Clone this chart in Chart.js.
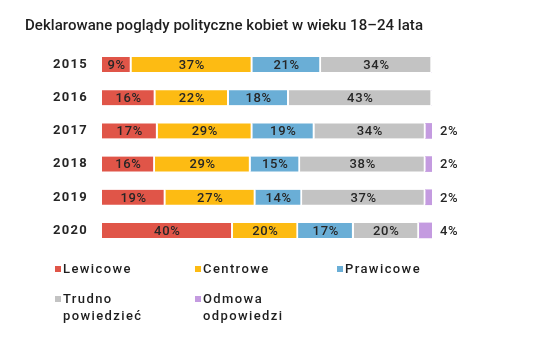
<!DOCTYPE html>
<html><head><meta charset="utf-8">
<script src="https://cdn.jsdelivr.net/npm/chart.js@4/dist/chart.umd.min.js"></script>
<style>
html,body{margin:0;padding:0;background:#fff;width:552px;height:341px;overflow:hidden;font-family:Roboto,"Noto Sans",sans-serif;}
#wrap{position:relative;width:552px;height:341px;}
#title{position:absolute;left:25px;top:16px;font-size:15px;font-weight:500;color:#1e1e1e;white-space:nowrap;letter-spacing:0.05px;}
#c{position:absolute;left:0;top:0;}
.leg{position:absolute;font-size:13px;font-weight:500;color:#1e1e1e;letter-spacing:1.4px;line-height:17px;}
.leg i{position:absolute;left:-8px;top:6px;width:6px;height:6px;}
</style></head>
<body><div id="wrap">
<canvas id="c" width="552" height="341"></canvas>
<div id="title">Deklarowane poglądy polityczne kobiet w wieku 18–24 lata</div>
<div id="legend"></div>
</div>
<script>
const categories = ["2015","2016","2017","2018","2019","2020"];
const seriesNames = ["Lewicowe","Centrowe","Prawicowe","Trudno powiedzieć","Odmowa odpowiedzi"];
const lewicowe = [9,16,17,16,19,40];
const centrowe = [37,22,29,29,27,20];
const prawicowe = [21,18,19,15,14,17];
const trudno = [34,43,34,38,37,20];
const odmowa = [0,0,2,2,2,4];
const colors = ["#e05548","#fdbb13","#6aaed6","#c3c3c3","#c49be0"];

const raw = [lewicowe,centrowe,prawicowe,trudno,odmowa];
const totals = categories.map((_,i)=>raw.reduce((s,a)=>s+a[i],0));

const datasets = raw.map((arr,k)=>({
  label: seriesNames[k],
  data: arr.map((v,i)=>v*100/totals[i]),
  rawValues: arr,
  backgroundColor: colors[k],
  borderColor: "#ffffff",
  borderWidth: {left:0,top:0,bottom:0,right:k<4?2:0},
  borderSkipped: false,
  barThickness: 15
}));

const spacingPlugin = {
  id:"spacing",
  beforeDraw(chart){ try{ chart.ctx.letterSpacing = "1.3px"; }catch(e){} }
};

const labelPlugin = {
  id:"labels",
  afterDatasetsDraw(chart){
    const ctx = chart.ctx;
    ctx.save();
    try{ ctx.letterSpacing = "0.7px"; }catch(e){}
    ctx.font = "500 13px Roboto, 'Noto Sans', sans-serif";
    ctx.fillStyle = "#262626";
    ctx.textBaseline = "middle";
    chart.data.datasets.forEach((ds,k)=>{
      const meta = chart.getDatasetMeta(k);
      meta.data.forEach((bar,i)=>{
        const v = ds.rawValues[i];
        if(!v) return;
        const txt = v+"%";
        if(k===4){
          ctx.textAlign = "left";
          ctx.fillText(txt, bar.x+8, bar.y+1);
        } else {
          ctx.textAlign = "center";
          ctx.fillText(txt, (bar.x+bar.base)/2, bar.y+1);
        }
      });
    });
    ctx.restore();
  }
};

new Chart(document.getElementById("c"),{
  type:"bar",
  data:{labels:categories,datasets},
  options:{
    indexAxis:"y",
    responsive:false,
    animation:false,
    layout:{padding:{left:0,right:120,top:48,bottom:94}},
    plugins:{legend:{display:false},tooltip:{enabled:false}},
    scales:{
      x:{stacked:true,min:0,max:100,display:false},
      y:{stacked:true,
         grid:{display:false,drawTicks:false},
         border:{display:false},
         afterFit(s){s.width=102;},
         ticks:{padding:14,color:"#262626",font:{family:"Roboto, 'Noto Sans', sans-serif",size:13,weight:"bold"}}
      }
    }
  },
  plugins:[spacingPlugin,labelPlugin]
});

const legendPos = [[63,260],[203,260],[345,260],[63,290],[203,290]];
const legendText = ["Lewicowe","Centrowe","Prawicowe","Trudno<br>powiedzieć","Odmowa<br>odpowiedzi"];
const lg = document.getElementById("legend");
legendText.forEach((t,k)=>{
  const d=document.createElement("div");
  d.className="leg";
  d.style.left=legendPos[k][0]+"px";
  d.style.top=legendPos[k][1]+"px";
  d.innerHTML='<i style="background:'+colors[k]+'"></i>'+t;
  lg.appendChild(d);
});
</script>
</body></html>
